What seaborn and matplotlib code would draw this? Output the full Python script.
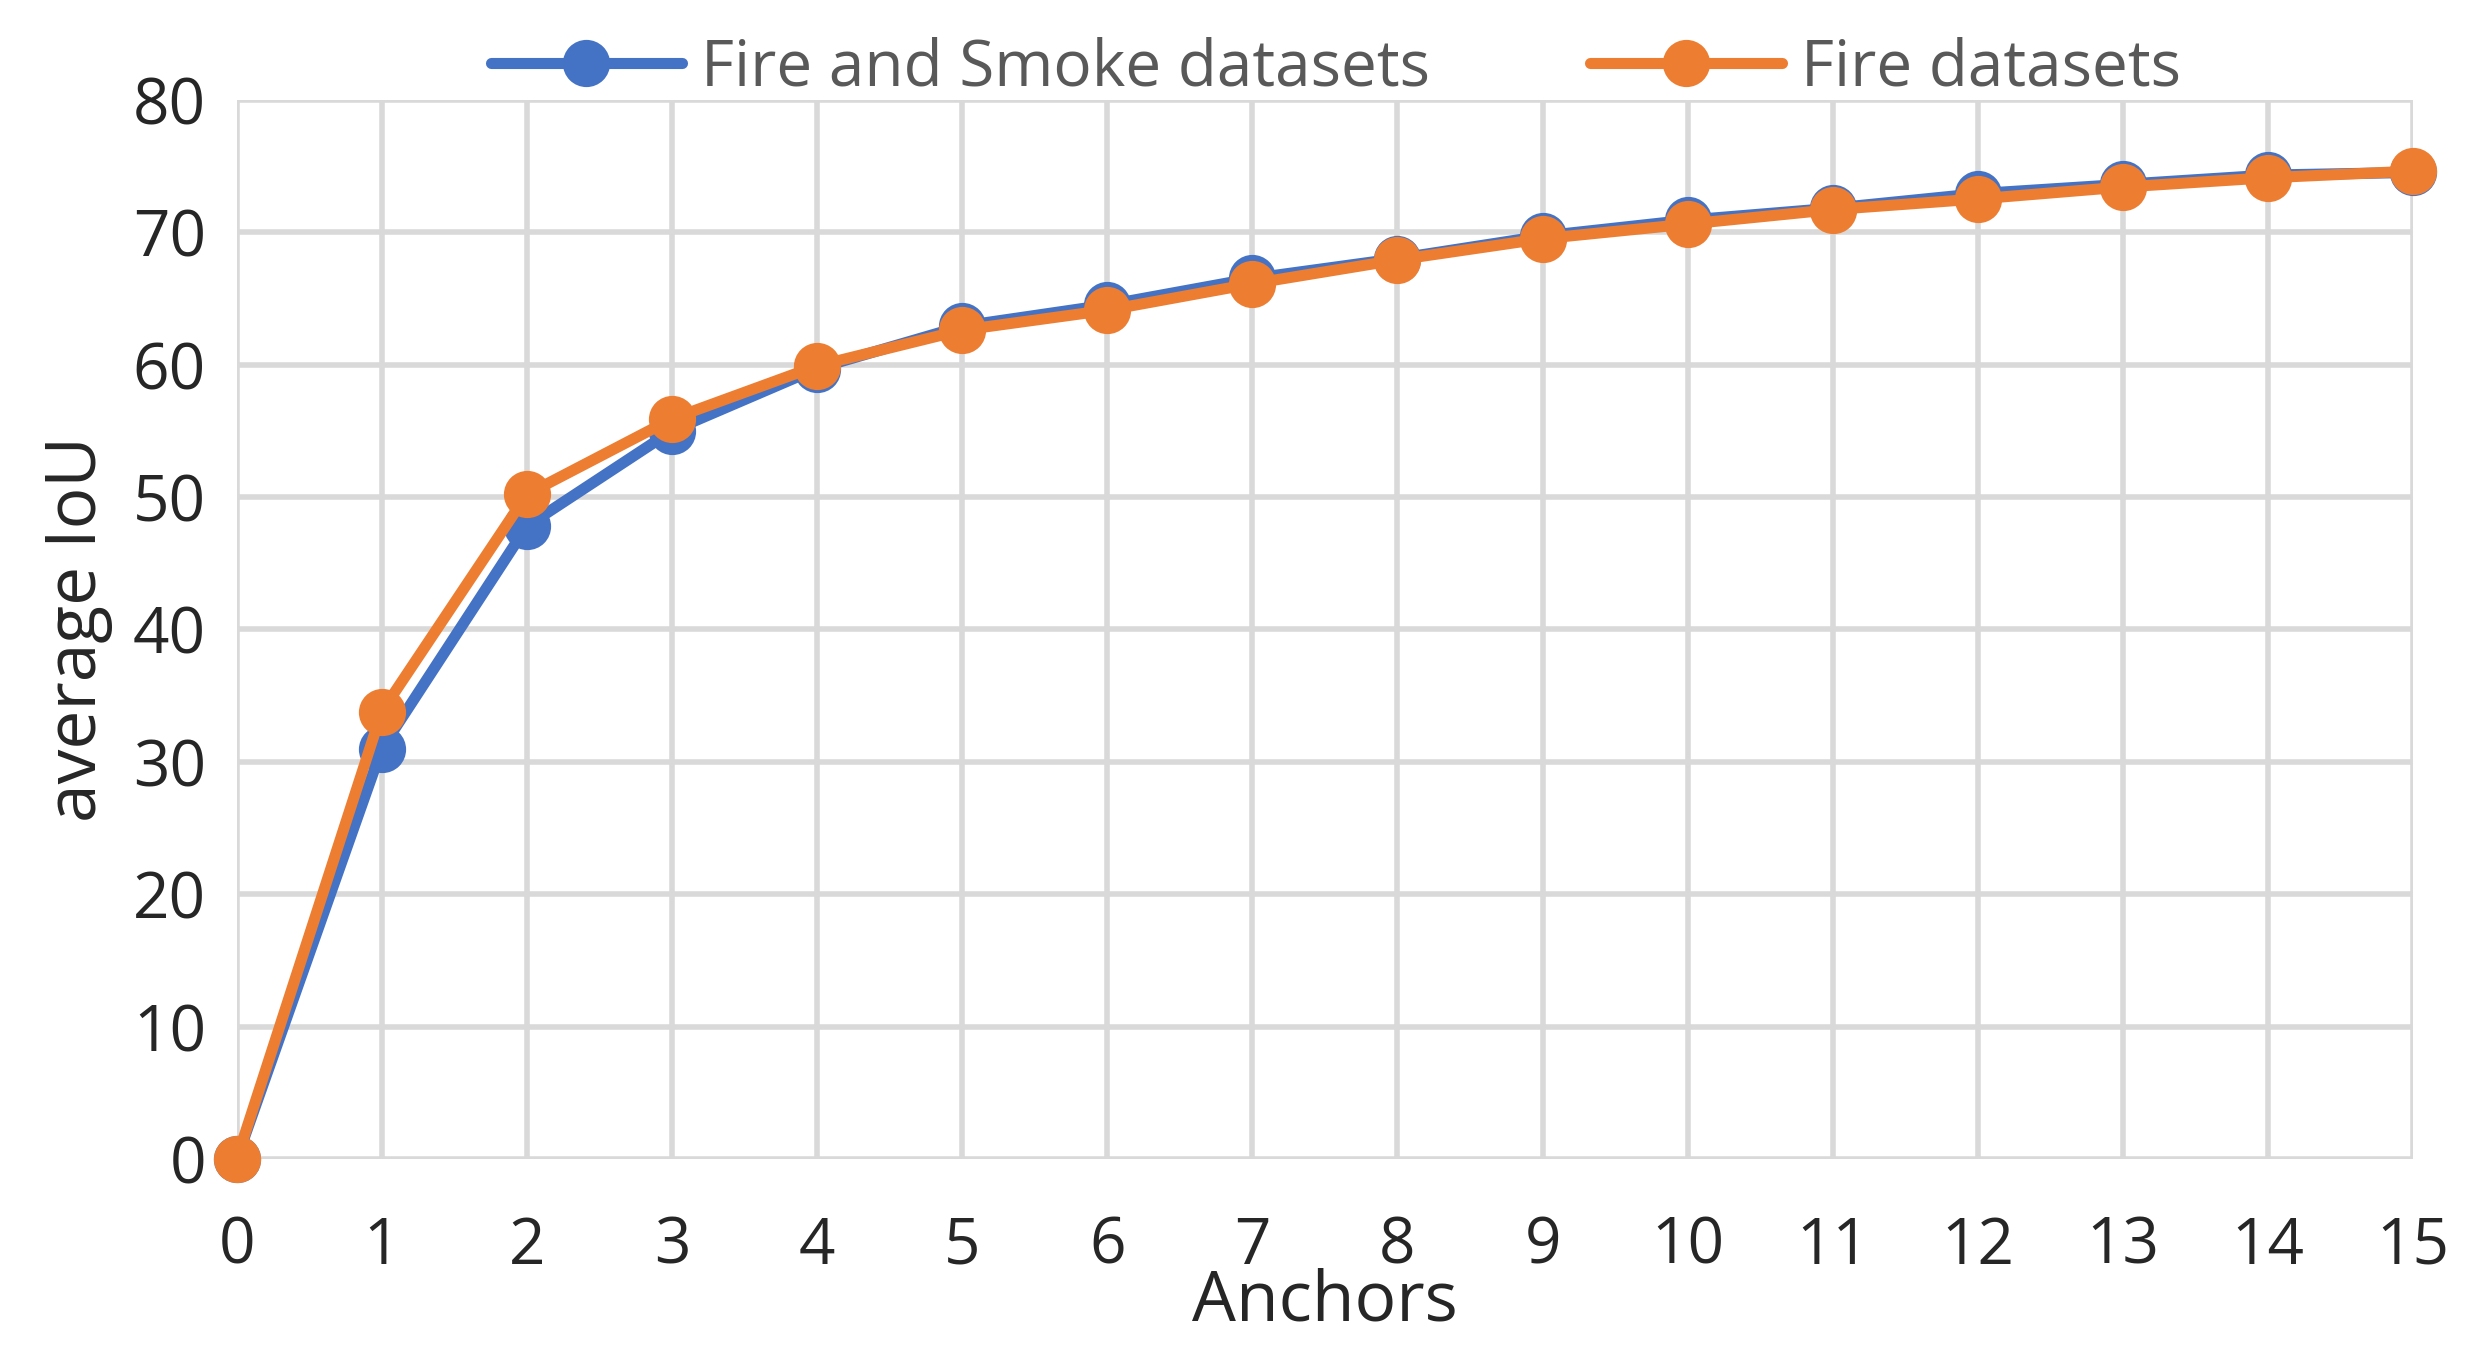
import matplotlib
matplotlib.use("Agg")
import matplotlib.pyplot as plt
import seaborn as sns
import pandas as pd

anchors = list(range(16))
fire_smoke = [0, 31, 47.8, 55, 59.7, 62.9, 64.5, 66.5, 68, 69.7, 70.9, 71.8, 72.9, 73.6, 74.3, 74.5]
fire = [0, 33.8, 50.2, 55.9, 59.9, 62.6, 64.1, 66.1, 67.9, 69.5, 70.6, 71.7, 72.5, 73.4, 74.1, 74.6]
series_names = ["Fire and Smoke datasets", "Fire datasets"]
colors = ["#4472C4", "#ED7D31"]

df = pd.DataFrame({
    "Anchors": anchors * 2,
    "IoU": fire_smoke + fire,
    "Series": [series_names[0]] * 16 + [series_names[1]] * 16,
})

sns.set_style("white")
plt.rcParams['font.family'] = ['Open Sans', 'DejaVu Sans']

fig = plt.figure(figsize=(24.65, 13.64), dpi=100)
ax = fig.add_axes([0.096, 0.15, 0.883, 0.777])
sns.lineplot(data=df, x="Anchors", y="IoU", hue="Series", palette=colors,
             marker="o", markersize=34, linewidth=8, markeredgewidth=0,
             ax=ax, legend=True)
for l in ax.lines:
    l.set_clip_on(False)
ax.set_xlim(0, 15)
ax.set_ylim(0, 80)
ax.set_xticks(range(16))
ax.set_yticks(range(0, 81, 10))
ax.grid(True, color="#D9D9D9", linewidth=4)
ax.set_axisbelow(True)
for s in ax.spines.values():
    s.set_visible(False)
ax.tick_params(axis="both", labelsize=46, length=0)
ax.tick_params(axis="x", pad=40)
ax.tick_params(axis="y", pad=22)
ax.set_xlabel("Anchors", fontsize=50, labelpad=-8)
ax.set_ylabel("average IoU", fontsize=50, labelpad=14)
leg = ax.legend(loc="lower center", bbox_to_anchor=(0.505, 0.975), ncol=2, frameon=False,
                fontsize=46, handlelength=3.0, handletextpad=0.3, columnspacing=2.5,
                borderaxespad=0)
for t in leg.get_texts():
    t.set_color("#595959")
fig.savefig("out.png", dpi=100)
